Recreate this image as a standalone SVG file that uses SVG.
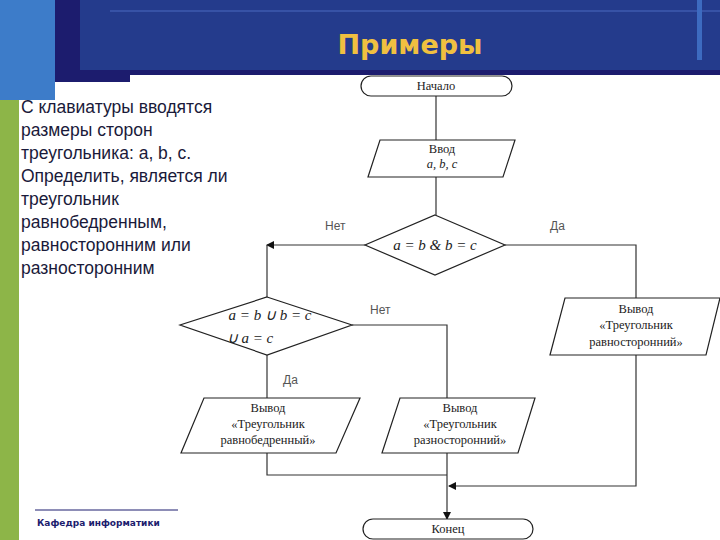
<svg xmlns="http://www.w3.org/2000/svg" width="720" height="540" viewBox="0 0 720 540">
<defs>
<marker id="ar" markerWidth="8" markerHeight="8" refX="7" refY="4" orient="auto" markerUnits="userSpaceOnUse"><path d="M0,0 L8,4 L0,8 Z" fill="#111"/></marker>
</defs>
<style>
.s{fill:#fff;stroke:#222;stroke-width:1.2}
.c{fill:none;stroke:#333;stroke-width:1.2}
.t{font-family:"Liberation Serif",serif;font-size:12.5px;fill:#222;text-anchor:middle}
.i{font-style:italic;font-size:15px}
.l{font-family:"Liberation Sans",sans-serif;font-size:12px;fill:#555}
</style>
<rect width="720" height="540" fill="#fff"/>
<rect x="0" y="0" width="55" height="100" fill="#3d7cc9"/>
<rect x="0" y="100" width="19" height="440" fill="#8db548"/>
<rect x="55" y="0" width="75" height="82" fill="#1c1c6e"/>
<rect x="80" y="0" width="640" height="75" fill="#1c1c6e"/>
<rect x="80" y="0" width="640" height="70" fill="#243b8c"/>
<line x1="110" y1="11" x2="720" y2="11" stroke="#4a6bc0" stroke-width="1"/>
<rect x="697" y="0" width="5" height="60" fill="#3d6bc0"/>
<text x="410" y="54" font-family="Verdana,'DejaVu Sans',sans-serif" font-weight="bold" font-size="27" fill="#f0c040" text-anchor="middle">Примеры</text>
<text font-family="'Liberation Sans',Arial,sans-serif" font-size="17.5" fill="#1a1a3a">
<tspan x="21" y="113">С клавиатуры вводятся</tspan>
<tspan x="21" y="136">размеры сторон</tspan>
<tspan x="21" y="159">треугольника: a, b, c.</tspan>
<tspan x="21" y="182">Определить, является ли</tspan>
<tspan x="21" y="205">треугольник</tspan>
<tspan x="21" y="228">равнобедренным,</tspan>
<tspan x="21" y="251">равносторонним или</tspan>
<tspan x="21" y="274">разносторонним</tspan>
</text>
<line x1="35" y1="510" x2="178" y2="510" stroke="#1c1c6e" stroke-width="1"/>
<text x="37" y="526" font-family="Verdana,'DejaVu Sans',sans-serif" font-size="9" font-weight="bold" fill="#1c1c6e">Кафедра информатики</text>
<g id="connectors">
<path class="c" d="M436,96 V140"/>
<path class="c" d="M436,177 V215"/>
<path class="c" d="M365,245 H267" marker-end="url(#ar)"/>
<path class="c" d="M267,245 V297"/>
<path class="c" d="M505,245 H636 V298"/>
<path class="c" d="M352,325 H447 V398"/>
<path class="c" d="M267,355 V398"/>
<path class="c" d="M267,453 V475 H447"/>
<path class="c" d="M447,453 V519" marker-end="url(#ar)"/>
<path class="c" d="M636,355 V486 H449" marker-end="url(#ar)"/>
<text class="l" x="325" y="230">Нет</text>
<text class="l" x="550" y="230">Да</text>
<text class="l" x="370" y="314">Нет</text>
<text class="l" x="283" y="384">Да</text>
</g>
<g id="start"><rect class="s" x="361" y="76" width="151" height="20" rx="10"/><text class="t" x="436" y="90">Начало</text></g>
<g id="input"><path class="s" d="M380,140 H515 L503,177 H368 Z"/><text class="t" x="442" y="153">Ввод</text><text class="t" x="442" y="168" font-style="italic">a,  b,   c</text></g>
<g id="cond1"><path class="s" d="M435,215 L505,245 L435,275 L365,245 Z"/><text class="t i" x="435" y="250">a = b &amp; b = c</text></g>
<g id="cond2"><path class="s" d="M267,297 L352,325 L267,355 L180,325 Z"/><text class="t i" x="270" y="320">a = b ∪ b = c</text><text class="t i" x="250" y="343" fill="#777">∪ a = c</text></g>
<g id="out3"><path class="s" d="M565,298 H720 L706,355 H550 Z"/><text class="t" x="636" y="313">Вывод</text><text class="t" x="636" y="329">«Треугольник</text><text class="t" x="636" y="346">равносторонний»</text></g>
<g id="out1"><path class="s" d="M204,398 H360 L336,453 H181 Z"/><text class="t" x="268" y="412">Вывод</text><text class="t" x="268" y="428">«Треугольник</text><text class="t" x="268" y="444">равнобедренный»</text></g>
<g id="out2"><path class="s" d="M400,398 H535 L518,453 H382 Z"/><text class="t" x="460" y="412">Вывод</text><text class="t" x="460" y="428">«Треугольник</text><text class="t" x="460" y="444">разносторонний»</text></g>
<g id="end"><rect class="s" x="363" y="519" width="170" height="20" rx="10"/><text class="t" x="448" y="533">Конец</text></g>
</svg>
